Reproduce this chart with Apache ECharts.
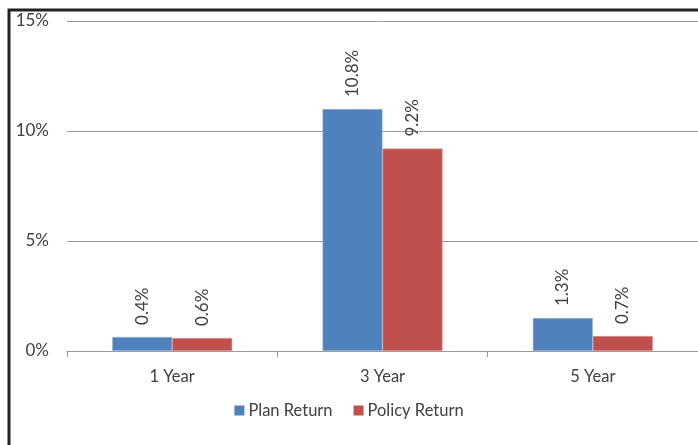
<!DOCTYPE html>
<html><head><meta charset="utf-8">
<script src="https://cdn.jsdelivr.net/npm/echarts@6/dist/echarts.min.js"></script>
<style>html,body{margin:0;padding:0;background:#fff}#c{width:698px;height:445px}</style>
</head><body><div id="c"></div>
<script>
const categories = ['1 Year', '3 Year', '5 Year'];
const seriesNames = ['Plan Return', 'Policy Return'];
const planValues = [0.64, 11.0, 1.5];
const planLabels = ['0.4%', '10.8%', '1.3%'];
const policyValues = [0.59, 9.2, 0.68];
const policyLabels = ['0.6%', '9.2%', '0.7%'];
const yTicks = [0, 5, 10, 15];

const font = 'Lato, "Liberation Sans", sans-serif';
const chart = echarts.init(document.getElementById('c'), null, {renderer: 'canvas'});
function lbl(texts) {
  return {
    show: true, position: 'top', rotate: 90, align: 'left', verticalAlign: 'middle',
    distance: 12, color: '#404040', fontSize: 17, fontFamily: font,
    formatter: p => texts[p.dataIndex]
  };
}
chart.setOption({
  animation: false,
  textStyle: {fontFamily: font},
  graphic: [{type: 'rect', shape: {x: 9, y: 10, width: 720, height: 460},
    style: {fill: 'none', stroke: '#222', lineWidth: 3}, silent: true}],
  grid: {left: 67, top: 21, width: 636, height: 330, containLabel: false},
  legend: {
    data: seriesNames, bottom: 21, left: 'center', itemWidth: 10, itemHeight: 10, itemGap: 21,
    icon: 'rect', itemStyle: {borderWidth: 0},
    textStyle: {fontSize: 16.5, color: '#404040', fontFamily: font, padding: [0, 0, 0, -1]}
  },
  xAxis: {
    type: 'category', data: categories,
    axisLine: {lineStyle: {color: '#9a9a9a', width: 1}},
    axisTick: {show: true, alignWithLabel: false, length: 6, lineStyle: {color: '#9a9a9a'}},
    axisLabel: {color: '#404040', fontSize: 16.5, margin: 17, fontFamily: font}
  },
  yAxis: {
    type: 'value', min: yTicks[0], max: yTicks[yTicks.length - 1], interval: 5,
    axisLine: {show: false}, axisTick: {show: false},
    splitLine: {lineStyle: {color: '#9a9a9a', width: 1}},
    axisLabel: {color: '#404040', fontSize: 17, margin: 18, formatter: '{value}%', fontFamily: font}
  },
  series: [
    {name: seriesNames[0], type: 'bar', data: planValues, barWidth: 60, barGap: '0%',
     itemStyle: {color: '#4F81BD', borderColor: '#a9c0e0', borderWidth: 0.5}, label: lbl(planLabels)},
    {name: seriesNames[1], type: 'bar', data: policyValues, barWidth: 60, barGap: '0%',
     itemStyle: {color: '#C0504D', borderColor: '#e0a3a1', borderWidth: 0.5}, label: lbl(policyLabels)}
  ]
});
</script></body></html>
